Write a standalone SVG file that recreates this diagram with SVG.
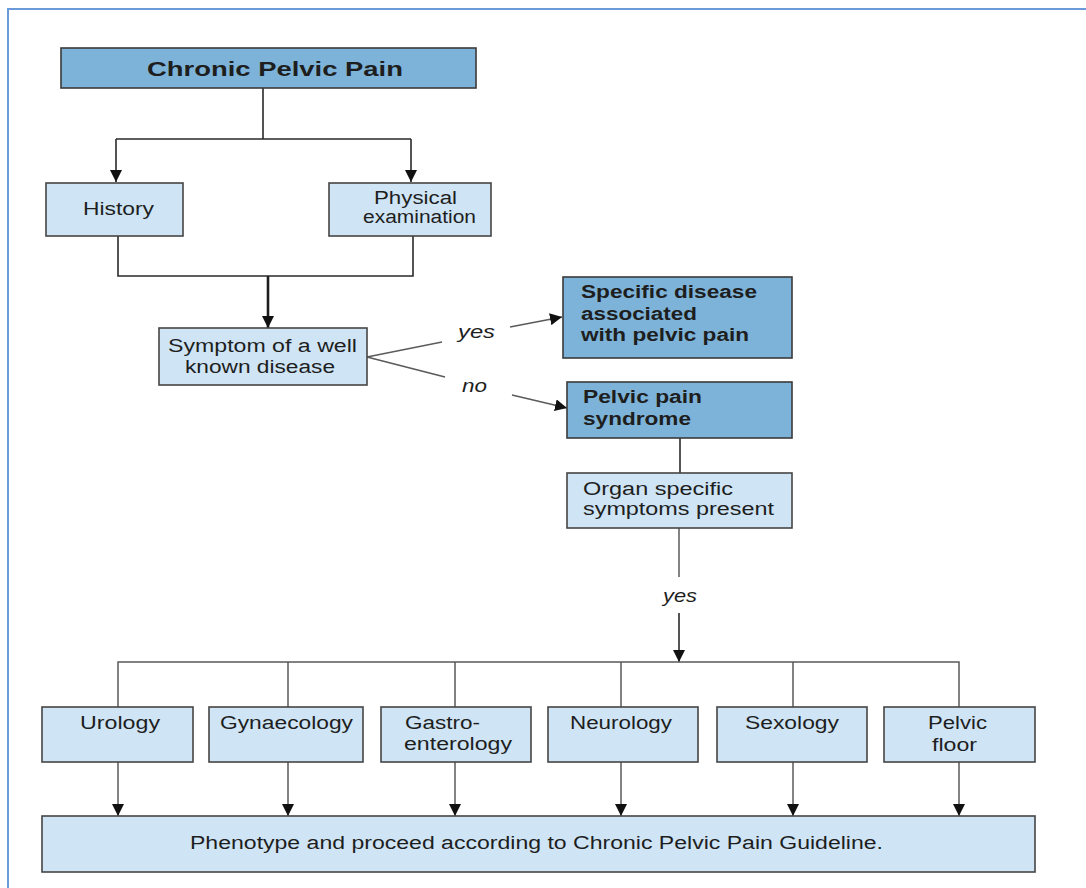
<svg xmlns="http://www.w3.org/2000/svg" width="1086" height="888" viewBox="0 0 1086 888">
<style>
.bg{fill:#ffffff}
.frame{stroke:#6a9bd8;stroke-width:2;fill:none}
.light{fill:#cfe5f5;stroke:#454545;stroke-width:1.6}
.dark{fill:#7db3d8;stroke:#3a3a3a;stroke-width:1.6}
.t{font-family:"Liberation Sans",Arial,Helvetica,sans-serif;font-size:18px;fill:#1e1e1e}
.b{font-weight:bold}
.i{font-style:italic}
.line{stroke:#5a5a5a;stroke-width:1.5;fill:none}
.dk{stroke:#2a2a2a;stroke-width:1.6;fill:none}
.thick{stroke:#1e1e1e;stroke-width:2.6;fill:none}
</style>
<defs>
<marker id="ah" markerUnits="userSpaceOnUse" markerWidth="13" markerHeight="12" refX="12" refY="6" orient="auto">
<path d="M0,0 L12,6 L0,12 z" fill="#111"/>
</marker>
</defs>
<rect class="bg" x="0" y="0" width="1086" height="888"/>
<path class="frame" d="M8,888 V9 H1086"/>

<g id="connectors">
<path class="dk" d="M263,88 V139 M116,139 H411"/>
<path class="dk" d="M116,139 V182" marker-end="url(#ah)"/>
<path class="dk" d="M411,139 V182" marker-end="url(#ah)"/>
<path class="dk" d="M118,236 V276 H413 V236"/>
<path class="thick" d="M268,276 V328" marker-end="url(#ah)"/>
<path class="line" d="M367,357 L442,342"/>
<path class="line" d="M510,327 L562,317" marker-end="url(#ah)"/>
<path class="line" d="M367,357 L445,377"/>
<path class="line" d="M512,395 L567,408" marker-end="url(#ah)"/>
<path class="dk" d="M680,438 V473"/>
<path class="line" d="M679,528 V577"/>
<path class="dk" d="M679,613 V662" marker-end="url(#ah)"/>
<path class="line" d="M118,707 V662 H959 V707 M288,662 V707 M455,662 V707 M621,662 V707 M793,662 V707"/>
<path class="line" d="M118,762 V816" marker-end="url(#ah)"/>
<path class="line" d="M288,762 V816" marker-end="url(#ah)"/>
<path class="line" d="M455,762 V816" marker-end="url(#ah)"/>
<path class="line" d="M621,762 V816" marker-end="url(#ah)"/>
<path class="line" d="M793,762 V816" marker-end="url(#ah)"/>
<path class="line" d="M959,762 V816" marker-end="url(#ah)"/>
<text class="t i" x="458" y="338" textLength="37" lengthAdjust="spacingAndGlyphs">yes</text>
<text class="t i" x="462" y="392" textLength="25" lengthAdjust="spacingAndGlyphs">no</text>
<text class="t i" x="663" y="602" textLength="34" lengthAdjust="spacingAndGlyphs">yes</text>
</g>

<g id="chronic">
<rect class="dark" x="61" y="48" width="415" height="40"/>
<text class="t b" x="147" y="76" style="font-size:21px" textLength="256" lengthAdjust="spacingAndGlyphs">Chronic Pelvic Pain</text>
</g>

<g id="history">
<rect class="light" x="46" y="183" width="137" height="53"/>
<text class="t" x="83" y="215" textLength="71" lengthAdjust="spacingAndGlyphs">History</text>
</g>

<g id="physical">
<rect class="light" x="329" y="183" width="162" height="53"/>
<text class="t" x="374" y="204" textLength="83" lengthAdjust="spacingAndGlyphs">Physical</text>
<text class="t" x="363" y="223" textLength="113" lengthAdjust="spacingAndGlyphs">examination</text>
</g>

<g id="symptom">
<rect class="light" x="159" y="328" width="208" height="57"/>
<text class="t" x="168" y="352" textLength="189" lengthAdjust="spacingAndGlyphs">Symptom of a well</text>
<text class="t" x="185" y="373" textLength="150" lengthAdjust="spacingAndGlyphs">known disease</text>
</g>

<g id="specific">
<rect class="dark" x="563" y="277" width="229" height="81"/>
<text class="t b" x="581" y="298" textLength="176" lengthAdjust="spacingAndGlyphs">Specific disease</text>
<text class="t b" x="581" y="320" textLength="116" lengthAdjust="spacingAndGlyphs">associated</text>
<text class="t b" x="581" y="341" textLength="168" lengthAdjust="spacingAndGlyphs">with pelvic pain</text>
</g>

<g id="syndrome">
<rect class="dark" x="567" y="382" width="225" height="56"/>
<text class="t b" x="583" y="403" textLength="119" lengthAdjust="spacingAndGlyphs">Pelvic pain</text>
<text class="t b" x="583" y="425" textLength="108" lengthAdjust="spacingAndGlyphs">syndrome</text>
</g>

<g id="organ">
<rect class="light" x="567" y="473" width="225" height="55"/>
<text class="t" x="583" y="495" textLength="150" lengthAdjust="spacingAndGlyphs">Organ specific</text>
<text class="t" x="583" y="515" textLength="191" lengthAdjust="spacingAndGlyphs">symptoms present</text>
</g>

<g id="urology">
<rect class="light" x="42" y="707" width="151" height="55"/>
<text class="t" x="80" y="729" textLength="80" lengthAdjust="spacingAndGlyphs">Urology</text>
</g>

<g id="gynaecology">
<rect class="light" x="209" y="707" width="154" height="55"/>
<text class="t" x="220" y="729" textLength="133" lengthAdjust="spacingAndGlyphs">Gynaecology</text>
</g>

<g id="gastro">
<rect class="light" x="381" y="707" width="150" height="55"/>
<text class="t" x="405" y="729" textLength="75" lengthAdjust="spacingAndGlyphs">Gastro-</text>
<text class="t" x="404" y="750" textLength="108" lengthAdjust="spacingAndGlyphs">enterology</text>
</g>

<g id="neurology">
<rect class="light" x="548" y="707" width="150" height="55"/>
<text class="t" x="570" y="729" textLength="102" lengthAdjust="spacingAndGlyphs">Neurology</text>
</g>

<g id="sexology">
<rect class="light" x="717" y="707" width="150" height="55"/>
<text class="t" x="745" y="729" textLength="94" lengthAdjust="spacingAndGlyphs">Sexology</text>
</g>

<g id="pelvicfloor">
<rect class="light" x="884" y="707" width="151" height="55"/>
<text class="t" x="928" y="729" textLength="59" lengthAdjust="spacingAndGlyphs">Pelvic</text>
<text class="t" x="932" y="751" textLength="45" lengthAdjust="spacingAndGlyphs">floor</text>
</g>

<g id="phenotype">
<rect class="light" x="42" y="816" width="993" height="56"/>
<text class="t" x="190" y="849" textLength="693" lengthAdjust="spacingAndGlyphs">Phenotype and proceed according to Chronic Pelvic Pain Guideline.</text>
</g>
</svg>
